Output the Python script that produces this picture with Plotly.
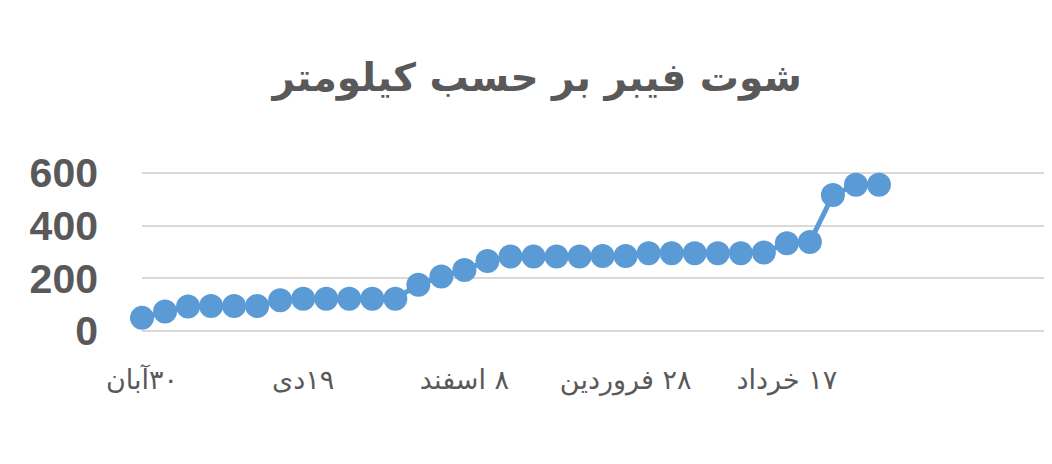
import plotly.graph_objects as go

# fiber shot, km, one point per reading
km = [50, 74, 93, 95, 95, 95, 117, 123, 123, 123, 123, 123, 176, 207, 232, 266,
      283, 283, 283, 283, 285, 285, 295, 295, 295, 295, 295, 298, 333, 338,
      516, 555, 555]
idx = list(range(len(km)))

tick_pos = [0, 7, 14, 21, 28]
tick_labels = ["۳۰آبان", "۱۹دی", "۸ اسفند", "۲۸ فروردین", "۱۷ خرداد"]
y_ticks = [0, 200, 400, 600]

blue = "#5B9BD5"
grey = "#595959"

fig = go.Figure()
fig.add_trace(go.Scatter(
    x=idx, y=km, mode="lines+markers",
    line=dict(color=blue, width=5),
    marker=dict(color=blue, size=24),
    cliponaxis=False, hoverinfo="y",
))

# page body has an 8px margin, so everything is pulled up/left by 8
fig.update_layout(
    width=1052, height=448,
    margin=dict(l=134, r=0, t=161, b=121),
    paper_bgcolor="white", plot_bgcolor="white",
    showlegend=False,
    title=dict(text="شوت فیبر بر حسب کیلومتر", x=0.503, xanchor="center",
               y=0.846, yanchor="middle",
               font=dict(family="DejaVu Sans", size=39, color=grey, weight="bold")),
)
fig.update_xaxes(
    range=[0, 39.86], showgrid=False, zeroline=False, showline=False,
    automargin=False,
    tickmode="array", tickvals=tick_pos,
    ticktext=["\u200f" + t for t in tick_labels],
    ticks="", ticklabelstandoff=26,
    tickfont=dict(family="DejaVu Sans", size=27, color=grey),
)
fig.update_yaxes(
    range=[-15, 615], tickvals=y_ticks, showgrid=True, gridcolor="#D9D9D9",
    gridwidth=2, zeroline=False, showline=False, ticks="",
    automargin=False, ticklabelstandoff=43,
    tickfont=dict(family="Liberation Sans", size=41, color=grey, weight="bold"),
)

fig.write_html("out.html")
